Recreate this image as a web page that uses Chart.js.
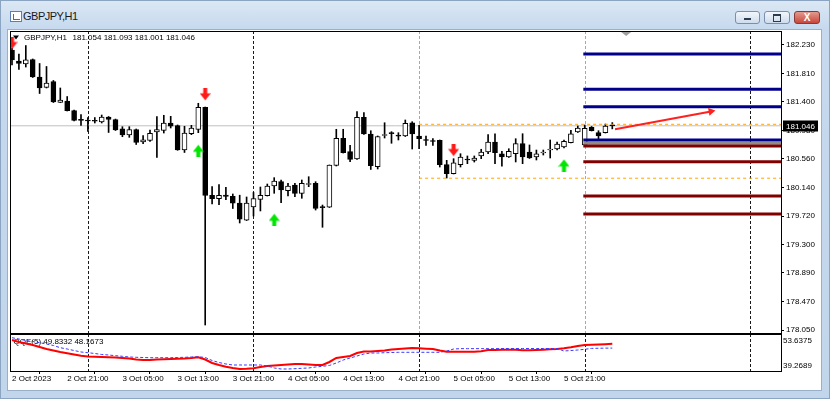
<!DOCTYPE html>
<html><head><meta charset="utf-8">
<script src="https://cdn.jsdelivr.net/npm/chart.js@4.4.0/dist/chart.umd.min.js"></script>
<style>
html,body{margin:0;padding:0}
body{width:830px;height:399px;overflow:hidden;position:relative;font-family:"Liberation Sans",Arial,sans-serif}
#frame{position:absolute;left:0;top:0;width:828px;height:397px;border:1px solid #8aa4c2;background:linear-gradient(#dbe7f4 0px,#c6d9ee 28px,#c1d5eb 100%)}
#icon{position:absolute;left:10px;top:11px;width:10px;height:9px;border:1px solid #5a7fb0;background:#fff}
#icon div{position:absolute;left:2px;top:2px;width:6px;height:5px;border-left:1px solid #3a6fc0;border-bottom:1px solid #3a6fc0}
#title{position:absolute;left:23px;top:10px;font-size:11px;line-height:12px;letter-spacing:-0.5px;color:#1a1a1a}
.btn{position:absolute;top:11px;height:11px;border:1px solid #7890ad;border-radius:3px;background:linear-gradient(#f2f6fb,#cfdcec)}
#bmin{left:735px;width:23px}
#bmax{left:764px;width:24px}
#bclose{left:794px;width:24px;background:linear-gradient(#e39a8e,#c8473a);border-color:#8a3a33;color:#fff;font-size:10px;font-weight:bold;line-height:11px;text-align:center}
#bmin div{position:absolute;left:8px;top:6px;width:7px;height:2px;background:#2d3b4f}
#bmax div{position:absolute;left:8px;top:2px;width:6px;height:5px;border:1px solid #2d3b4f;border-top-width:2px}
#client{position:absolute;left:7px;top:29px;width:815px;height:362px;background:#fff;border:1px solid #9bb0c8;box-sizing:border-box}
canvas{position:absolute;left:0;top:0}
</style></head>
<body>
<div id="frame"></div>
<div id="icon"><div></div></div>
<div id="title">GBPJPY,H1</div>
<div class="btn" id="bmin"><div></div></div>
<div class="btn" id="bmax"><div></div></div>
<div class="btn" id="bclose">X</div>
<div id="client"></div>
<canvas id="c" width="830" height="399"></canvas>
<script>
// ---- data (H1 bars, index 0 = 2 Oct 2023 13:00) ----
const opens = [182.156,181.995,181.951,182.017,181.761,181.610,181.695,181.390,181.409,181.270,
181.134,181.123,181.116,181.102,181.175,181.138,181.003,180.911,180.992,180.809,
180.830,180.955,180.980,181.087,181.048,180.692,180.930,180.992,181.317,180.028,
179.978,180.032,180.013,179.912,179.663,179.856,179.966,180.022,180.164,180.227,
180.095,180.178,180.057,180.186,180.203,179.856,179.852,180.464,180.863,180.667,
180.560,181.171,180.926,180.447,180.904,180.938,180.899,180.896,181.091,180.896,
180.838,180.820,180.833,180.476,180.344,180.476,180.552,180.540,180.604,180.662,
180.809,180.637,180.589,180.637,180.784,180.662,180.589,180.647,180.691,180.706,
180.735,180.798,180.955,180.765,181.024,180.945,180.945,181.054];
const highs = [182.186,182.098,182.222,182.025,181.959,181.915,181.710,181.600,181.475,181.277,
181.211,181.167,181.167,181.204,181.182,181.145,181.033,181.033,180.999,180.904,
180.984,181.182,181.200,181.185,181.058,181.039,181.053,181.376,181.321,180.157,
180.183,180.145,180.047,180.029,180.003,180.069,180.149,180.193,180.286,180.252,
180.203,180.203,180.252,180.300,180.227,179.885,180.472,180.995,180.995,180.760,
181.253,181.238,180.974,180.897,181.091,180.960,180.945,181.131,181.106,181.053,
180.896,180.857,180.838,180.540,180.564,180.637,180.604,180.604,180.702,180.916,
180.930,180.672,180.710,180.857,180.930,180.765,180.691,180.691,180.838,180.809,
180.838,180.980,181.043,181.058,181.036,180.974,181.072,181.093];
const lows = [181.937,181.871,181.907,181.754,181.519,181.600,181.387,181.387,181.263,181.116,
181.053,180.962,181.087,181.087,180.948,180.977,180.886,180.877,180.772,180.784,
180.816,180.582,180.940,181.014,180.687,180.655,180.916,180.945,178.127,179.900,
179.890,179.963,179.834,179.622,179.658,179.724,179.798,180.017,180.057,179.919,
180.017,180.007,179.984,180.154,179.812,179.559,179.849,180.457,180.647,180.520,
180.555,180.919,180.406,180.413,180.867,180.790,180.838,180.889,180.706,180.710,
180.760,180.760,180.442,180.281,180.340,180.442,180.491,180.515,180.564,180.637,
180.491,180.453,180.582,180.516,180.491,180.567,180.545,180.618,180.574,180.691,
180.721,180.794,180.948,180.750,180.970,180.838,180.940,181.001];
const closes = [182.010,181.959,182.014,181.761,181.600,181.673,181.395,181.424,181.267,181.123,
181.126,181.116,181.112,181.175,181.138,180.984,180.911,180.992,180.801,180.842,
180.936,180.992,181.087,181.039,180.692,180.940,181.014,181.317,180.025,179.978,
180.028,180.010,179.912,179.677,179.912,179.981,180.029,180.164,180.237,180.105,
180.164,180.057,180.203,180.196,179.837,179.847,180.472,180.863,180.652,180.555,
181.171,180.926,180.460,180.889,180.914,180.932,180.894,181.083,180.926,180.857,
180.830,180.816,180.476,180.344,180.505,180.589,180.545,180.574,180.662,180.809,
180.652,180.589,180.672,180.784,180.589,180.574,180.637,180.662,180.706,180.779,
180.819,180.930,181.014,181.009,180.974,180.896,181.043,181.046];
// QQE(5) indicator
const qqeRsi = [51.31,50.53,49.95,49.37,48.59,47.81,47.23,46.65,46.14,45.68,
45.21,44.90,44.83,44.71,44.59,44.51,44.32,44.12,43.74,43.54,
43.54,43.74,43.81,43.93,44.01,44.12,44.32,44.59,43.74,42.38,
41.60,40.94,40.44,40.05,40.12,40.32,40.83,41.21,41.41,41.60,
41.79,41.99,41.99,41.79,41.60,41.60,42.77,44.32,44.71,45.10,
46.26,46.84,46.84,47.04,47.23,47.62,47.81,48.01,48.20,48.08,
47.93,47.81,47.23,46.76,46.76,46.76,46.76,46.76,46.92,47.42,
47.42,47.54,47.54,47.54,47.31,47.31,47.42,47.54,47.70,47.81,
48.08,48.47,48.98,49.37,49.45,49.55,49.70,49.8332];
const qqeTrail = [52.20,51.70,51.11,50.72,50.26,49.75,49.17,48.32,47.81,47.23,
46.65,46.38,46.07,45.68,45.48,45.21,44.98,44.71,44.59,44.51,
44.43,44.43,44.43,44.43,44.51,44.59,44.71,44.82,44.51,43.35,
42.57,41.99,41.60,41.60,41.60,41.60,41.60,41.21,40.44,40.05,
40.05,40.17,40.32,40.44,40.83,41.10,41.41,42.38,43.54,44.32,
45.09,45.87,46.26,46.26,46.38,46.45,46.53,46.53,46.53,46.53,
46.53,46.53,46.53,47.04,47.81,47.95,47.95,47.95,47.95,47.95,
47.95,48.00,48.00,48.00,48.00,48.00,48.00,48.00,48.01,48.01,
47.04,47.23,47.42,47.70,48.05,48.10,48.15,48.1673];
const qqeScale = ['53.6375','39.2689'];
// tick labels
const priceTicks = [182.230,181.810,181.400,180.980,180.560,180.140,179.720,179.300,178.890,178.470,178.050];
const xTickBars = [0,8,16,24,32,40,48,56,64,72,80];
const xTickLabels = ['2 Oct 2023','2 Oct 21:00','3 Oct 05:00','3 Oct 13:00','3 Oct 21:00','4 Oct 05:00','4 Oct 13:00','4 Oct 21:00','5 Oct 05:00','5 Oct 13:00','5 Oct 21:00'];
const separatorBars = [11,35,59,83,107];
// objects
const blueLevels = [182.098,181.581,181.326,180.838];
const redLevels = [180.750,180.520,180.017,179.753];
const grayLevels = [180.790];
const levelStartBar = 82.8;
const orangeLevels = [181.068,180.278];
const orangeStartBar = 59;
const redArrowBars = [0,28,64];
const redArrowPrices = [182.259,181.507,180.691];
const greenArrowBars = [27,38,80];
const greenArrowPrices = [180.680,179.669,180.467];
const trendBars = [87.4,101.3];
const trendPrices = [180.994,181.257];
const symbolName = 'GBPJPY,H1';

// ---- build ----
const N = opens.length;
const lastClose = closes[N-1];
const FONT = '8px "Liberation Sans", Arial, sans-serif';
const bull = closes.map((c,i)=>c>=opens[i]);
const bodyData = opens.map((o,i)=>({x:i,y:[Math.min(o,closes[i]),Math.max(o,closes[i])]}));
const wickData = lows.map((l,i)=>({x:i,y:[l,highs[i]]}));

function arrowCanvas(color, down){
  const cv=document.createElement('canvas'); cv.width=11; cv.height=13;
  const g=cv.getContext('2d'); g.fillStyle=color;
  if(!down){ g.translate(0,13); g.scale(1,-1); }
  g.fillRect(3.5,0,4,6.5);
  g.beginPath(); g.moveTo(0,5.5); g.lineTo(11,5.5); g.lineTo(5.5,12.5); g.closePath(); g.fill();
  return cv;
}
const redArrow = arrowCanvas('#ff1a1a', true);
const greenArrow = arrowCanvas('#00e600', false);

const hLine = (p, start, color, width, dash, order) => ({
  type:'line', data:[{x:start,y:p},{x:113,y:p}], borderColor:color, borderWidth:width,
  borderDash:dash||[], pointRadius:0, yAxisID:'y', order, clip:0
});

const datasets = [];
redArrowBars.forEach(()=>{});
datasets.push({type:'line', data:redArrowBars.map((b,i)=>({x:b,y:redArrowPrices[i]})), showLine:false,
  pointStyle:redArrow, pointRadius:6, yAxisID:'y', order:0, clip:0});
datasets.push({type:'line', data:greenArrowBars.map((b,i)=>({x:b,y:greenArrowPrices[i]})), showLine:false,
  pointStyle:greenArrow, pointRadius:6, yAxisID:'y', order:0, clip:0});
datasets.push({type:'line', data:trendBars.map((b,i)=>({x:b,y:trendPrices[i]})), borderColor:'#ff2020', borderWidth:2,
  pointRadius:[0,4.5], pointStyle:'triangle', pointRotation:[0,79.5], pointBackgroundColor:'#ff2020', pointBorderWidth:0,
  yAxisID:'y', order:1, clip:0});
blueLevels.forEach(p=>datasets.push(hLine(p, levelStartBar, '#00008b', 3, null, 2)));
grayLevels.forEach(p=>datasets.push(hLine(p, levelStartBar, '#8c8c8c', 3, null, 2.5)));
redLevels.forEach(p=>datasets.push(hLine(p, levelStartBar, '#800000', 3, null, 2)));
orangeLevels.forEach(p=>datasets.push(hLine(p, orangeStartBar, '#ffa500', 1, [3,3], 3)));
datasets.push({type:'bar', data:bodyData, barThickness:5, minBarLength:1, grouped:false,
  backgroundColor:c=>bull[c.dataIndex]?'#ffffff':'#000000', borderColor:'#000', borderWidth:1,
  borderSkipped:false, yAxisID:'y', order:4});
datasets.push({type:'bar', data:wickData, barThickness:1, grouped:false, backgroundColor:'#000',
  borderWidth:0, yAxisID:'y', order:5});
datasets.push(hLine(lastClose, -1, '#c0c0c0', 1, null, 6));
datasets[datasets.length-1].data[0].x = -1;
datasets.push({type:'line', data:qqeTrail.map((v,i)=>({x:i,y:v})), borderColor:'#3a3aff', borderWidth:1,
  borderDash:[3,2], pointRadius:0, tension:0, yAxisID:'y2', order:7});
datasets.push({type:'line', data:qqeRsi.map((v,i)=>({x:i,y:v})), borderColor:'#ff0000', borderWidth:2,
  pointRadius:0, tension:0, yAxisID:'y2', order:8});

const overlay = {
  id:'overlay',
  beforeDatasetsDraw(chart){
    const c=chart.ctx, x=chart.scales.x, y=chart.scales.y, y2=chart.scales.y2;
    c.save();
    c.lineWidth=1; c.setLineDash([3,2]);
    separatorBars.forEach((b,k)=>{
      const px=Math.round(x.getPixelForValue(b))+0.5;
      if(px>chart.chartArea.right) return;
      c.strokeStyle=(k===2||k===3)?'#a8a8a8':'#1a1a1a';
      c.beginPath(); c.moveTo(px,y.top); c.lineTo(px,y.bottom); c.stroke();
      c.strokeStyle='#1a1a1a';
      c.beginPath(); c.moveTo(px,y2.top+1); c.lineTo(px,y2.bottom); c.stroke();
    });
    c.setLineDash([]);
    // header
    c.fillStyle='#000';
    c.beginPath(); c.moveTo(13,35.5); c.lineTo(19,35.5); c.lineTo(16,39.5); c.closePath(); c.fill();
    c.font=FONT; c.textBaseline='middle'; c.textAlign='left';
    c.fillText(symbolName,24,37.5);
    c.fillText([opens[N-1],highs[N-1],lows[N-1],closes[N-1]].map(v=>v.toFixed(3)).join(' '),72.5,37.5);
    c.fillText('QQE(5) '+qqeRsi[N-1].toFixed(4)+' '+qqeTrail[N-1].toFixed(4),13.5,y2.top+8.5);
    c.restore();
  },
  afterDraw(chart){
    const c=chart.ctx, x=chart.scales.x, y=chart.scales.y, y2=chart.scales.y2, a=chart.chartArea;
    c.save();
    c.strokeStyle='#000'; c.lineWidth=1;
    c.strokeRect(a.left+0.5, y.top+0.5, a.right-a.left, y.bottom-y.top);
    c.strokeRect(a.left+0.5, y2.top+1.5, a.right-a.left, y2.bottom-y2.top-1);
    // shift marker
    const sx=x.getPixelForValue(89);
    c.fillStyle='#a0a0a0';
    c.beginPath(); c.moveTo(sx-5,y.top+1); c.lineTo(sx+5,y.top+1); c.lineTo(sx,y.top+5); c.closePath(); c.fill();
    // price box
    const py=Math.round(y.getPixelForValue(lastClose));
    c.fillStyle='#000'; c.fillRect(a.right+2, py-5.5, 35, 11);
    c.fillStyle='#fff'; c.font=FONT; c.textBaseline='middle'; c.textAlign='left';
    c.fillText(lastClose.toFixed(3), a.right+5, py+0.5);
    // indicator scale labels
    c.fillStyle='#000';
    c.fillText(qqeScale[0], a.right+2, y2.top+8);
    c.fillText(qqeScale[1], a.right+2, y2.bottom-5);
    c.restore();
  }
};

new Chart(document.getElementById('c'), {
  type:'bar',
  data:{datasets},
  options:{
    responsive:false, animation:false, devicePixelRatio:1,
    layout:{padding:{left:10,top:31,right:8,bottom:8}},
    plugins:{legend:{display:false}, tooltip:{enabled:false}},
    scales:{
      x:{type:'linear', position:'bottom', min:-0.29, max:111.45, offset:false,
        afterBuildTicks:s=>{ s.ticks = xTickBars.map(v=>({value:v})); },
        afterFit:s=>{ s.height=20; },
        ticks:{callback:(v,i)=>xTickLabels[i], align:'start', maxRotation:0, autoSkip:false,
          font:{family:'"Liberation Sans", Arial, sans-serif', size:8}, color:'#000', padding:0},
        grid:{display:true, drawOnChartArea:false, tickLength:3, color:'#000'},
        border:{display:false}},
      y:{type:'linear', position:'right', stack:'panes', stackWeight:302, min:178.010, max:182.435, beginAtZero:false,
        afterBuildTicks:s=>{ s.ticks = priceTicks.map(v=>({value:v})); },
        afterFit:s=>{ s.width=41; },
        ticks:{callback:v=>v.toFixed(3), autoSkip:false, font:{family:'"Liberation Sans", Arial, sans-serif', size:8}, color:'#000', padding:2},
        grid:{display:true, drawOnChartArea:false, tickLength:3, color:'#000'},
        border:{display:false}},
      y2:{type:'linear', position:'right', stack:'panes', stackWeight:38, min:39.2689, max:54.03, beginAtZero:false,
        afterFit:s=>{ s.width=41; },
        ticks:{display:false}, grid:{display:false}, border:{display:false}}
    }
  },
  plugins:[overlay]
});
</script>
</body></html>
